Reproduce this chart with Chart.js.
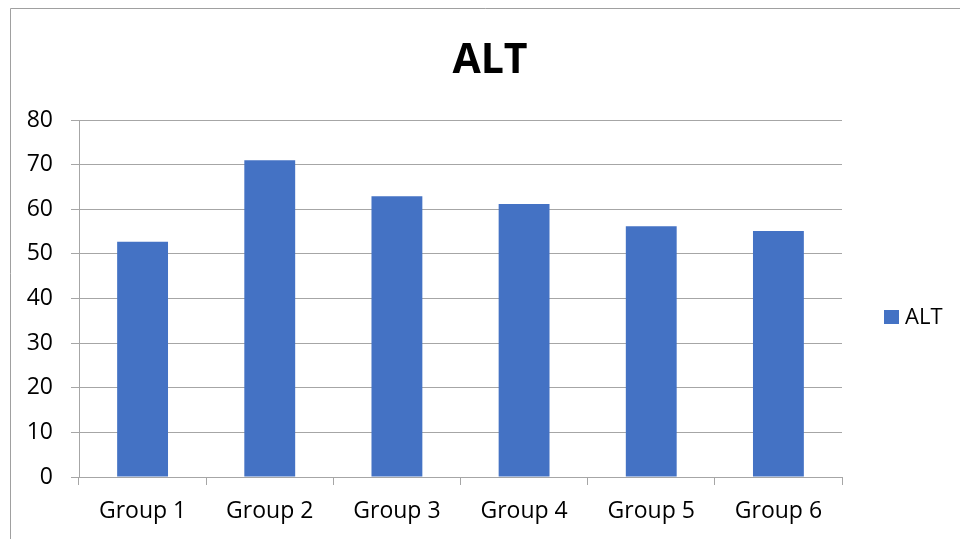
<!DOCTYPE html>
<html>
<head>
<meta charset="utf-8">
<script src="https://cdn.jsdelivr.net/npm/chart.js@4.4.1/dist/chart.umd.min.js"></script>
<style>
  html, body { margin: 0; padding: 0; background: #fff; }
  #wrap { width: 960px; height: 539px; position: relative; }
</style>
</head>
<body>
<div id="wrap"><canvas id="c" width="960" height="539"></canvas></div>
<script>
// ALT by group
const categories = ['Group 1', 'Group 2', 'Group 3', 'Group 4', 'Group 5', 'Group 6'];
const altValues = [52.7, 71.0, 62.9, 61.2, 56.2, 55.1];
const yTicks = [0, 10, 20, 30, 40, 50, 60, 70, 80];
const seriesName = 'ALT';
const chartTitle = 'ALT';

const FONT = '"Open Sans", "Noto Sans", sans-serif';
const BAR_COLOR = '#4472C4';
const GRID_COLOR = '#a6a6a6';

// Frame around the chart, the title and the legend entry
const decorations = {
  id: 'decorations',
  beforeDraw(chart) {
    const ctx = chart.ctx;
    ctx.save();
    ctx.fillStyle = '#fff';
    ctx.fillRect(0, 0, chart.width, chart.height);
    ctx.strokeStyle = '#a0a0a0';
    ctx.lineWidth = 1;
    ctx.beginPath();
    ctx.moveTo(10.5, chart.height);
    ctx.lineTo(10.5, 8.5);
    ctx.lineTo(chart.width, 8.5);
    ctx.stroke();
    ctx.restore();
  },
  afterDraw(chart) {
    const ctx = chart.ctx;
    ctx.save();
    ctx.fillStyle = '#000';
    ctx.font = 'bold 41px ' + FONT;
    ctx.textAlign = 'center';
    ctx.textBaseline = 'alphabetic';
    ctx.fillText(chartTitle, 490, 73);

    const ds = chart.data.datasets[0];
    ctx.fillStyle = ds.backgroundColor;
    ctx.fillRect(884, 310, 15, 14);
    ctx.fillStyle = '#000';
    ctx.font = '22px ' + FONT;
    ctx.textAlign = 'left';
    ctx.textBaseline = 'middle';
    ctx.fillText(ds.label, 905, 318);
    ctx.restore();
  }
};

new Chart(document.getElementById('c'), {
  type: 'bar',
  data: {
    labels: categories,
    datasets: [{
      label: seriesName,
      data: altValues,
      backgroundColor: BAR_COLOR,
      borderWidth: 0,
      categoryPercentage: 1.0,
      barPercentage: 0.4
    }]
  },
  options: {
    responsive: false,
    animation: false,
    layout: { padding: { left: 0, right: 118, top: 120, bottom: 0 } },
    plugins: {
      legend: { display: false },
      title: { display: false },
      tooltip: { enabled: false }
    },
    scales: {
      x: {
        offset: true,
        grid: {
          offset: true,
          drawOnChartArea: false,
          drawTicks: true,
          tickLength: 8,
          color: GRID_COLOR,
          lineWidth: 1
        },
        border: { display: true, color: GRID_COLOR, width: 1 },
        ticks: {
          color: '#000',
          font: { family: FONT, size: 23 },
          padding: 13,
          maxRotation: 0
        },
        afterFit(scale) { scale.height = 62; }
      },
      y: {
        min: 0,
        max: 80,
        afterBuildTicks(scale) { scale.ticks = yTicks.map(v => ({ value: v })); },
        grid: {
          drawTicks: true,
          tickLength: 8,
          color: GRID_COLOR,
          lineWidth: 1
        },
        border: { display: true, color: GRID_COLOR, width: 1 },
        ticks: {
          color: '#000',
          font: { family: FONT, size: 23 },
          padding: 18
        },
        afterFit(scale) { scale.width = 79; }
      }
    }
  },
  plugins: [decorations]
});
</script>
</body>
</html>
